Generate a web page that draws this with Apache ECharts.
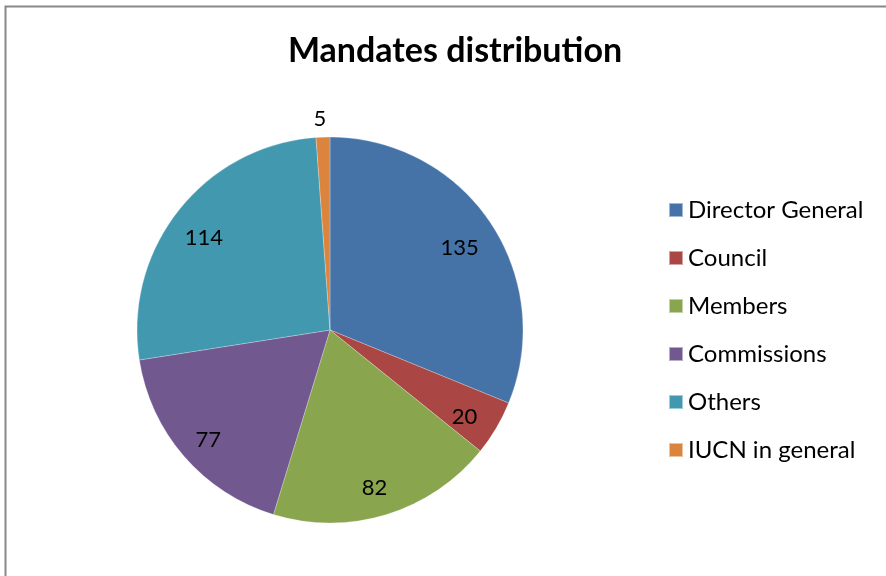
<!DOCTYPE html>
<html><head><meta charset="utf-8">
<script src="https://cdn.jsdelivr.net/npm/echarts@6/dist/echarts.min.js"></script>
<style>html,body{margin:0;padding:0;background:#fff}#c{width:886px;height:576px}</style>
</head><body><div id="c"></div>
<script>
const categories = ["Director General","Council","Members","Commissions","Others","IUCN in general"];
const values = [135, 20, 82, 77, 114, 5];
const colors = ["#4572A7","#AA4643","#89A54E","#71588F","#4198AF","#DB843D"];
const titleText = "Mandates distribution";

const chart = echarts.init(document.getElementById('c'), null, {renderer:'canvas'});
const FONT = 'Lato';
const pieData = categories.map((n,i)=>({name:n, value:values[i], itemStyle:{color:colors[i]}}));
const labelData = categories.map((n,i)=>{
  const d = {name:n, value:values[i]};
  if (values[i] < 10) {
    d.label = {position:'outside', distanceToLabelLine: 0, offset:[4,2]};
    d.labelLine = {show:false, length: 20, length2: 0};
  }
  return d;
});
chart.setOption({
  animation:false,
  title:{text:titleText, left:450, top:29, textAlign:'center',
    textStyle:{fontFamily:FONT, fontWeight:'bold', fontSize:34, color:'#000'}},
  legend:{orient:'vertical', left:668, top:198, padding:0, icon:'rect', itemWidth:14, itemHeight:14,
    itemGap:24, data:categories, selectedMode:false,
    textStyle:{fontFamily:FONT, fontSize:24, color:'#000', lineHeight:24}},
  graphic:[{type:'rect', shape:{x:5.5, y:6.5, width:900, height:600},
    style:{fill:'none', stroke:'#888', lineWidth:2}, silent:true, z:100}],
  series:[
    {type:'pie', center:[330,330], radius:[0,193], startAngle:90, clockwise:true,
     silent:true, label:{show:false}, labelLine:{show:false},
     itemStyle:{borderColor:'rgba(255,255,255,0.5)', borderWidth:0.5},
     data:pieData},
    {type:'pie', center:[330,330], radius:[118,193], startAngle:90, clockwise:true,
     silent:true, itemStyle:{color:'rgba(0,0,0,0)'},
     label:{show:true, position:'inside', formatter:'{c}', fontFamily:FONT, fontSize:22, color:'#000', offset:[-2,6]},
     labelLine:{show:false},
     data:labelData}
  ]
});
</script></body></html>
